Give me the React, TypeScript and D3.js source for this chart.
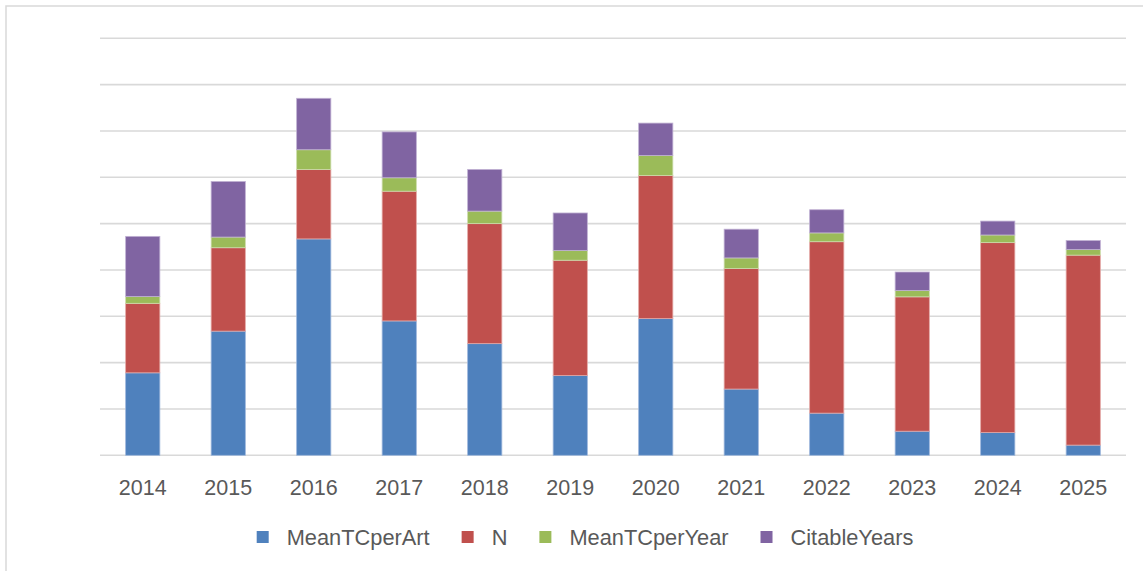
import { useRef, useEffect } from "react";
import * as d3 from "d3";

const years = ["2014", "2015", "2016", "2017", "2018", "2019", "2020", "2021", "2022", "2023", "2024", "2025"];
const meanTCperArt = [17.8, 26.8, 46.7, 29.0, 24.1, 17.2, 29.5, 14.3, 9.1, 5.2, 4.9, 2.2];
const nArticles = [15.0, 18.0, 15.0, 28.0, 25.9, 24.9, 30.9, 26.0, 37.0, 29.0, 41.0, 41.0];
const meanTCperYear = [1.45, 2.3, 4.25, 2.9, 2.7, 2.1, 4.3, 2.3, 1.9, 1.36, 1.65, 1.2];
const citableYears = [13.0, 12.0, 11.1, 9.9, 9.0, 8.1, 7.0, 6.2, 5.0, 4.0, 3.0, 1.95];
const yTicks = [0, 10, 20, 30, 40, 50, 60, 70, 80, 90];

const SERIES = [
  { key: "MeanTCperArt", values: meanTCperArt, color: "#4F81BD", edge: "#9DB7DC" },
  { key: "N", values: nArticles, color: "#C0504D", edge: "#E3A9A7" },
  { key: "MeanTCperYear", values: meanTCperYear, color: "#9BBB59", edge: "#CCDDAB" },
  { key: "CitableYears", values: citableYears, color: "#8064A2", edge: "#C0B1D3" },
];

const WIDTH = 1143;
const HEIGHT = 571;
const PLOT = { left: 100, right: 1126, top: 38.3, bottom: 455.3 };
const FONT = "'Liberation Sans', Arial, sans-serif";

export default function App() {
  const svgRef = useRef<SVGSVGElement>(null);

  useEffect(() => {
    const svg = d3.select(svgRef.current);
    svg.selectAll("*").remove();

    // outer frame (right/bottom edges run off the picture)
    svg.append("rect")
      .attr("x", 6).attr("y", 6)
      .attr("width", 1300).attr("height", 700)
      .attr("fill", "#fff")
      .attr("stroke", "#D9D9D9")
      .attr("stroke-width", 1.5);

    const x = d3.scaleBand().domain(years).range([PLOT.left, PLOT.right]).paddingInner(0.6).paddingOuter(0.3);
    const y = d3.scaleLinear().domain([0, 90]).range([PLOT.bottom, PLOT.top]);

    // gridlines
    svg.append("g")
      .selectAll("line")
      .data(yTicks)
      .join("line")
      .attr("x1", PLOT.left).attr("x2", PLOT.right)
      .attr("y1", (d) => y(d)).attr("y2", (d) => y(d))
      .attr("stroke", "#D9D9D9")
      .attr("stroke-width", 1.6);

    const rows = years.map((yr, i) => {
      const r: Record<string, number | string> = { year: yr };
      SERIES.forEach((s) => (r[s.key] = s.values[i]));
      return r;
    });
    const stacked = d3.stack<Record<string, number | string>>()
      .keys(SERIES.map((s) => s.key))
      .value((d, k) => d[k] as number)(rows);

    stacked.forEach((layer, li) => {
      svg.append("g")
        .selectAll("rect")
        .data(layer)
        .join("rect")
        .attr("x", (d) => x(d.data.year as string)!)
        .attr("width", x.bandwidth())
        .attr("y", (d) => y(d[1]))
        .attr("height", (d) => y(d[0]) - y(d[1]))
        .attr("fill", SERIES[li].color)
        .attr("stroke", SERIES[li].edge)
        .attr("stroke-width", 0.8);
    });

    // x labels
    svg.append("g")
      .selectAll("text")
      .data(years)
      .join("text")
      .attr("x", (d) => x(d)! + x.bandwidth() / 2)
      .attr("y", 494.5)
      .attr("text-anchor", "middle")
      .attr("font-family", FONT)
      .attr("font-size", 21.5)
      .attr("fill", "#595959")
      .text((d) => d);

    // legend
    const lg = svg.append("g");
    let cx = 0;
    SERIES.forEach((s) => {
      const item = lg.append("g").attr("transform", `translate(${cx},0)`);
      item.append("rect").attr("x", 0).attr("y", -6).attr("width", 12).attr("height", 12).attr("fill", s.color);
      const t = item.append("text")
        .attr("x", 30).attr("y", 7.5)
        .attr("font-family", FONT)
        .attr("font-size", 21.8)
        .attr("fill", "#595959")
        .text(s.key);
      const w = (t.node() as SVGTextElement).getComputedTextLength();
      cx += 30 + w + 32;
    });
    const total = cx - 32;
    lg.attr("transform", `translate(${585 - total / 2},537)`);
  }, []);

  return (
    <svg
      ref={svgRef}
      width={WIDTH}
      height={HEIGHT}
      style={{ position: "absolute", left: 0, top: 0, background: "#fff" }}
    />
  );
}
